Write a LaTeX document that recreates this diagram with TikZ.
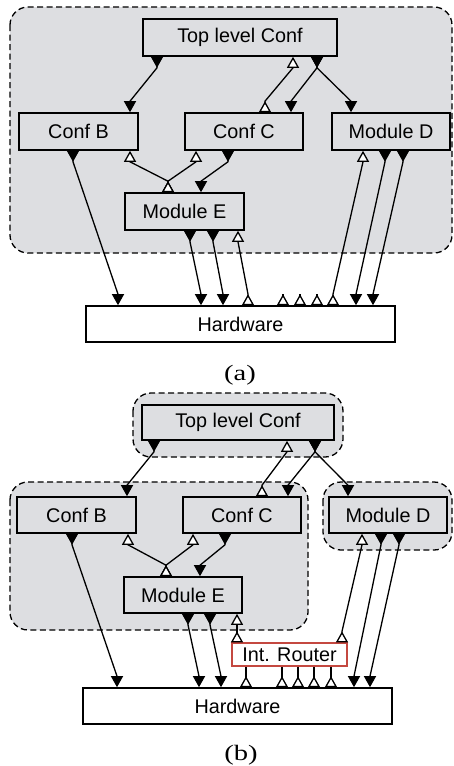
\documentclass[tikz,border=0pt]{standalone}
\usepackage{fontspec}
\setmainfont{Liberation Serif}
\setsansfont{Liberation Sans}
\usetikzlibrary{arrows.meta,calc}
\definecolor{grp}{RGB}{221,222,225}
\definecolor{rtr}{RGB}{196,72,64}
\newcommand\stub{11}
% filled connector: source node, x, target node, x
\newcommand\fconnect[4]{\draw[fconn] (#1.south -| #2,0) -- ++(0,\stub) -- ($(#3.north -| #4,0)+(0,-\stub)$) -- (#3.north -| #4,0);}
% open connector: source node (top), x, target node (bottom), x
\newcommand\oconnect[4]{\draw[oconn] (#1.north -| #2,0) -- ++(0,-\stub) -- ($(#3.south -| #4,0)+(0,\stub)$) -- (#3.south -| #4,0);}
\tikzset{
  box/.style={draw=black, line width=1.6pt, fill=grp, font=\sffamily\fontsize{19.8}{22}\selectfont, inner sep=0pt, anchor=center},
  hwbox/.style={box, fill=white},
  rtbox/.style={box, fill=white, draw=rtr, line width=1.2pt},
  group/.style={draw=black, fill=grp, line width=1.3pt, dash pattern=on 6pt off 3.5pt, rounded corners=18pt},
  fconn/.style={line width=1.3pt, {Triangle[reversed,length=11pt,width=12pt]}-{Triangle[length=11pt,width=12pt]}},
  oconn/.style={line width=1.3pt, {Triangle[reversed,length=11pt,width=12pt,fill=white]}-{Triangle[length=11pt,width=12pt,fill=white]}},
  hconn/.style={line width=1.3pt, {Triangle[reversed,length=11pt,width=12pt,fill=white]}-},
  caption/.style={font=\fontsize{22}{24}\selectfont}
}
\begin{document}
\begin{tikzpicture}[x=1pt,y=-1pt]
\useasboundingbox (0,0) rectangle (454,766);
% ---------------- (a) ----------------
\draw[group] (10,7) rectangle (452,253);
\node[box, minimum width=194pt, minimum height=37pt] (topA) at (240,37.5) {Top level Conf};
\node[box, minimum width=119pt, minimum height=37pt] (bA) at (78.5,131.5) {Conf B};
\node[box, minimum width=118pt, minimum height=37pt] (cA) at (244,131.5) {Conf C};
\node[box, minimum width=118pt, minimum height=37pt] (dA) at (391,131.5) {Module D};
\node[box, minimum width=119pt, minimum height=37pt] (eA) at (184.5,211.5) {Module E};
\node[hwbox, minimum width=309pt, minimum height=36pt] (hwA) at (240.5,324) {Hardware};
\node[caption] (capA) at (240,375) {\scalebox{1.3}[1]{(a)}};
\fconnect{topA}{157}{bA}{130}
\fconnect{topA}{317}{cA}{291}
\fconnect{topA}{317}{dA}{351}
\fconnect{bA}{73}{hwA}{118}
\fconnect{cA}{228}{eA}{201}
\fconnect{eA}{190}{hwA}{201}
\fconnect{eA}{213}{hwA}{223}
\fconnect{dA}{385}{hwA}{356}
\fconnect{dA}{403}{hwA}{373}
\oconnect{cA}{265}{topA}{293}
\oconnect{eA}{168}{bA}{130}
\oconnect{eA}{168}{cA}{196}
\oconnect{hwA}{248}{eA}{238}
\oconnect{hwA}{333}{dA}{363}
\foreach \x in {283,300,317}{
  \draw[hconn] (hwA.north -| \x,0) -- ++(0,-11);
}
% ---------------- (b) ----------------
\draw[group] (133,393) rectangle (343,457);
\draw[group] (10,482) rectangle (308,630);
\draw[group] (323,482) rectangle (452,550);
\node[box, minimum width=192pt, minimum height=35pt] (topB) at (238,422.5) {Top level Conf};
\node[box, minimum width=119pt, minimum height=36pt] (bB) at (76.5,515) {Conf B};
\node[box, minimum width=118pt, minimum height=36pt] (cB) at (242,515) {Conf C};
\node[box, minimum width=118pt, minimum height=36pt] (dB) at (388,515) {Module D};
\node[box, minimum width=118pt, minimum height=36pt] (eB) at (183,595) {Module E};
\node[rtbox, minimum width=115pt, minimum height=23pt] (rB) at (289.5,654.5) {Int. Router};
\node[hwbox, minimum width=309pt, minimum height=36pt] (hwB) at (237.5,706) {Hardware};
\node[caption] (capB) at (241,755) {\scalebox{1.3}[1]{(b)}};
\fconnect{topB}{154}{bB}{127}
\fconnect{topB}{315}{cB}{288}
\fconnect{topB}{315}{dB}{348}
\fconnect{bB}{72}{hwB}{117}
\fconnect{cB}{225}{eB}{200}
\fconnect{eB}{188}{hwB}{199}
\fconnect{eB}{210}{hwB}{221}
\fconnect{dB}{381}{hwB}{354}
\fconnect{dB}{399}{hwB}{370}
\oconnect{cB}{262}{topB}{287}
\oconnect{eB}{166}{bB}{128}
\oconnect{eB}{166}{cB}{193}
\oconnect{rB}{237}{eB}{237}
\oconnect{rB}{342}{dB}{362}
\foreach \x in {246,282,298,314,331}{
  \draw[hconn] (hwB.north -| \x,0) -- (rB.south -| \x,0);
}
\end{tikzpicture}
\end{document}
